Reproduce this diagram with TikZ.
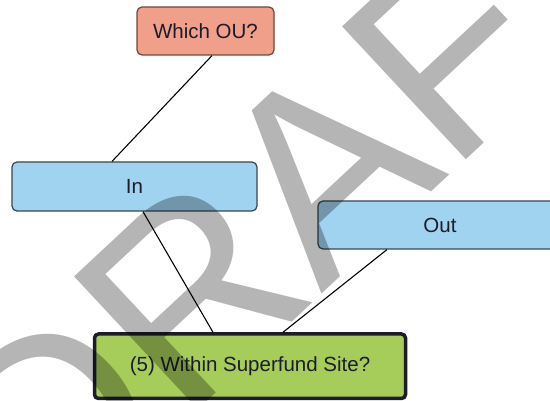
\documentclass[tikz,border=0pt]{standalone}
\usepackage{fontspec}
\setmainfont{Liberation Sans}
\definecolor{salmon}{HTML}{EF9F8A}
\definecolor{skyfill}{HTML}{A0D3F0}
\definecolor{leaf}{HTML}{A6CC5A}
\definecolor{boxline}{HTML}{3A4650}
\definecolor{ouline}{HTML}{6A4A3A}
\definecolor{inkc}{HTML}{1C1C2A}
\tikzset{
  qbox/.style={draw=boxline, line width=1.2pt, rounded corners=5pt, inner sep=0pt,
    font=\fontsize{20.5}{24}\selectfont, text=inkc},
  link/.style={draw=black, line width=1.1pt},
  wmark/.style={text=black, text opacity=0.29, inner sep=0pt, anchor=base west,
    font=\fontsize{264}{264}\selectfont}
}
\begin{document}
\begin{tikzpicture}[x=1pt,y=-1pt]
\useasboundingbox (0,0) rectangle (550,401);
\fill[white] (0,0) rectangle (550,401);
\node[qbox, fill=salmon, draw=ouline, minimum width=137pt, minimum height=48pt] (ou) at (205.5,31) {Which OU?};
\node[qbox, fill=skyfill, minimum width=245pt, minimum height=49pt] (in) at (134.5,186.5) {In};
\node[qbox, fill=skyfill, minimum width=244pt, minimum height=48pt] (out) at (440,225) {Out};
\node[qbox, fill=leaf, draw=inkc, line width=3.5pt, rounded corners=4pt, minimum width=311pt, minimum height=64.5pt] (sf) at (250,366.25) {(5) Within Superfund Site?};
\draw[link] ([xshift=6.5pt]ou.south) -- ([xshift=-22.5pt]in.north);
\draw[link] ([xshift=8.5pt]in.south) -- ([xshift=-37pt]sf.north);
\draw[link] ([xshift=-53pt]out.south) -- ([xshift=33pt]sf.north);
\node[wmark, rotate=43] (draft) at (43,555) {DRAFT};
\end{tikzpicture}
\end{document}
